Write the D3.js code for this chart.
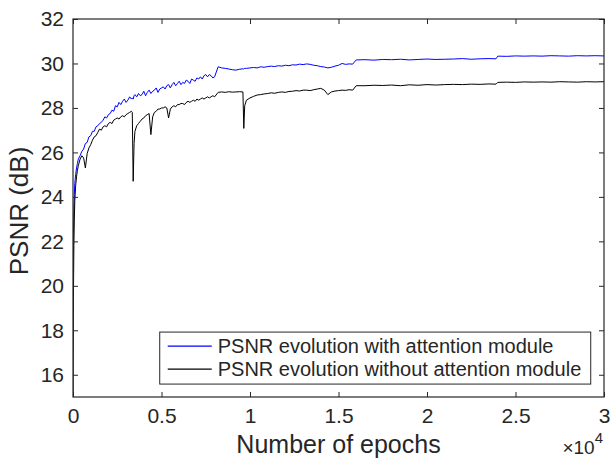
<!DOCTYPE html>
<html>
<head>
<meta charset="utf-8">
<script src="https://cdn.jsdelivr.net/npm/d3@7"></script>
<style>
  html, body { margin: 0; padding: 0; background: #fff; }
  svg { display: block; font-family: "Liberation Sans", Arial, sans-serif; }
</style>
</head>
<body>
<svg id="chart" width="611" height="458"></svg>
<script>
// training epochs (x values)
const epochs = [
  0, 25, 50, 75, 100, 150, 200, 250, 300,
  400, 500, 600, 700, 800, 900, 1000, 1100, 1200, 1300,
  1400, 1500, 1600, 1700, 1800, 1900, 2000, 2100, 2200, 2300,
  2400, 2500, 2600, 2700, 2800, 2900, 3000, 3100, 3200, 3300,
  3350, 3400, 3450, 3500, 3600, 3700, 3800, 3900, 4000, 4100,
  4200, 4300, 4400, 4500, 4600, 4700, 4800, 4900, 5000, 5100,
  5200, 5300, 5400, 5500, 5600, 5700, 5800, 5900, 6000, 6100,
  6200, 6300, 6400, 6500, 6600, 6700, 6800, 6900, 7000, 7100,
  7200, 7300, 7400, 7500, 7600, 7700, 7800, 7900, 8000,
  8200, 8400, 8600, 8800, 9000, 9200, 9400, 9600, 9650, 9700,
  9800, 10000, 10200, 10400, 10600, 10800, 11000, 11200, 11400, 11600,
  11800, 12000, 12200, 12400, 12600, 12800, 13000, 13200, 13400, 13600,
  13800, 14000, 14200, 14400, 14600, 14800, 15000, 15200, 15400, 15600,
  15800, 16000,
  16500, 17000, 17500, 18000, 18500, 19000, 19500, 20000, 20500, 21000,
  21500, 22000, 22500, 23000, 23500, 23900, 24000, 24500, 25000, 25500,
  26000, 26500, 27000, 27500, 28000, 28500, 29000, 29500, 30000
];

// PSNR (dB) with attention module
const psnrWith = [
  20.6, 22.3, 23.4, 24.1, 24.6, 25.0, 25.3, 25.5, 25.7,
  25.85, 26.05, 26.15, 26.40, 26.45, 26.70, 26.75, 26.95, 26.95, 27.15,
  27.20, 27.30, 27.35, 27.45, 27.60, 27.55, 27.70, 27.75, 27.90, 27.85,
  28.10, 28.05, 28.25, 28.15, 28.30, 28.40, 28.25, 28.35, 28.50, 28.40,
  28.45, 28.40, 28.55, 28.60, 28.50, 28.65, 28.55, 28.60, 28.75, 28.55,
  28.70, 28.80, 28.65, 28.75, 28.80, 28.90, 28.70, 28.85, 28.90, 28.95,
  28.85, 29.00, 29.05, 28.90, 29.05, 29.15, 29.00, 29.10, 29.20, 29.05,
  29.15, 29.10, 29.25, 29.20, 29.10, 29.30, 29.25, 29.20, 29.35, 29.30,
  29.40, 29.30, 29.45, 29.50, 29.40, 29.50, 29.45, 29.35, 29.40,
  29.85, 29.80, 29.78, 29.75, 29.72, 29.70, 29.74, 29.76, 29.75, 29.78,
  29.78, 29.80, 29.82, 29.80, 29.85, 29.83, 29.86, 29.88, 29.86, 29.90,
  29.88, 29.92, 29.90, 29.94, 29.93, 29.97, 29.95, 29.98, 29.96, 29.92,
  29.90, 29.86, 29.84, 29.80, 29.83, 29.88, 29.92, 30.00, 29.96, 29.98,
  29.97, 30.16,
  30.17, 30.15, 30.18, 30.17, 30.19, 30.16, 30.18, 30.20, 30.18, 30.19,
  30.20, 30.22, 30.19, 30.21, 30.22, 30.21, 30.33, 30.32, 30.34, 30.33,
  30.34, 30.33, 30.35, 30.34, 30.33, 30.35, 30.34, 30.35, 30.34
];

// PSNR (dB) without attention module
const psnrWithout = [
  14.0, 19.5, 21.8, 23.0, 23.8, 24.5, 24.9, 25.2, 25.4,
  25.70, 25.85, 25.75, 25.30, 25.95, 26.20, 26.35, 26.55, 26.70, 26.75,
  26.90, 27.05, 27.00, 27.15, 27.20, 27.15, 27.30, 27.35, 27.30, 27.45,
  27.50, 27.55, 27.50, 27.60, 27.65, 27.60, 27.70, 27.75, 27.80, 27.85,
  27.80, 24.70, 26.40, 26.95, 27.20, 27.30, 27.40, 27.50, 27.55, 27.65,
  27.70, 27.75, 26.80, 27.60, 27.80, 27.85, 27.95, 27.95, 28.00, 28.00,
  28.05, 28.00, 27.55, 27.95, 28.05, 28.10, 28.05, 28.15, 28.15, 28.20,
  28.20, 28.15, 28.25, 28.30, 28.25, 28.30, 28.35, 28.30, 28.40, 28.35,
  28.40, 28.45, 28.40, 28.45, 28.50, 28.45, 28.50, 28.55, 28.50,
  28.70, 28.72, 28.70, 28.73, 28.71, 28.72, 28.73, 28.72, 27.08, 28.10,
  28.35, 28.45, 28.52, 28.58, 28.60, 28.63, 28.65, 28.68, 28.66, 28.70,
  28.72, 28.70, 28.74, 28.75, 28.78, 28.76, 28.80, 28.80, 28.78, 28.82,
  28.85, 28.88, 28.80, 28.60, 28.72, 28.76, 28.78, 28.80, 28.79, 28.82,
  28.80, 29.00,
  29.00, 29.02, 29.01, 29.03, 29.00, 29.04, 29.02, 29.05, 29.03, 29.05,
  29.06, 29.05, 29.07, 29.06, 29.08, 29.07, 29.15, 29.16, 29.15, 29.17,
  29.16, 29.17, 29.16, 29.18, 29.17, 29.16, 29.18, 29.17, 29.18
];

const xTicks = [0, 5000, 10000, 15000, 20000, 25000, 30000];
const xTickLabels = ['0', '0.5', '1', '1.5', '2', '2.5', '3'];
const yTicks = [16, 18, 20, 22, 24, 26, 28, 30, 32];
const seriesNames = [
  'PSNR evolution with attention module',
  'PSNR evolution without attention module'
];
const seriesColors = ['#0000ff', '#000000'];

const margin = { top: 19, right: 7, bottom: 61, left: 73 };
const width = 611 - margin.left - margin.right;
const height = 458 - margin.top - margin.bottom;
const axisColor = '#262626';

const svg = d3.select('#chart');
const g = svg.append('g').attr('transform', `translate(${margin.left},${margin.top})`);

const xScale = d3.scaleLinear().domain([0, 30000]).range([0, width]);
const yScale = d3.scaleLinear().domain([15, 32]).range([height, 0]);

g.append('clipPath').attr('id', 'plot-clip')
  .append('rect').attr('width', width).attr('height', height);

const line = d3.line()
  .x((d, i) => xScale(epochs[i]))
  .y(d => yScale(d));

const plot = g.append('g').attr('clip-path', 'url(#plot-clip)');
[psnrWith, psnrWithout].forEach((vals, k) => {
  plot.append('path')
    .datum(vals)
    .attr('fill', 'none')
    .attr('stroke', seriesColors[k])
    .attr('stroke-width', 1)
    .attr('stroke-linejoin', 'round')
    .attr('d', line);
});

// axes: ticks point inward, box on all four sides
const tickLen = 5;
const xAxis = d3.axisBottom(xScale).tickValues(xTicks)
  .tickFormat((d, i) => xTickLabels[i]).tickSizeInner(-tickLen).tickSizeOuter(0).tickPadding(11);
const yAxis = d3.axisLeft(yScale).tickValues(yTicks)
  .tickSizeInner(-tickLen).tickSizeOuter(0).tickPadding(9);
const xTop = d3.axisTop(xScale).tickValues(xTicks).tickFormat('').tickSizeInner(-tickLen).tickSizeOuter(0);
const yRight = d3.axisRight(yScale).tickValues(yTicks).tickFormat('').tickSizeInner(-tickLen).tickSizeOuter(0);

const axes = [
  g.append('g').attr('transform', `translate(0,${height})`).call(xAxis),
  g.append('g').call(yAxis),
  g.append('g').call(xTop),
  g.append('g').attr('transform', `translate(${width},0)`).call(yRight)
];
axes.forEach(a => {
  a.select('.domain').remove();
  a.selectAll('.tick line').attr('stroke', axisColor).attr('stroke-width', 1);
  a.selectAll('.tick text').attr('fill', axisColor).attr('font-size', 21)
    .attr('font-family', '"Liberation Sans", Arial, sans-serif');
});

g.append('rect')
  .attr('width', width).attr('height', height)
  .attr('fill', 'none').attr('stroke', axisColor).attr('stroke-width', 1.2);

// axis labels
g.append('text')
  .attr('x', width / 2).attr('y', height + 56)
  .attr('text-anchor', 'middle').attr('font-size', 25).attr('fill', axisColor)
  .text('Number of epochs');

g.append('text')
  .attr('transform', `translate(-45,${height / 2 + 3}) rotate(-90)`)
  .attr('text-anchor', 'middle').attr('font-size', 26).attr('fill', axisColor)
  .text('PSNR (dB)');

const expo = g.append('text')
  .attr('x', width - 1).attr('y', height + 57)
  .attr('text-anchor', 'end').attr('font-size', 19).attr('fill', axisColor);
expo.append('tspan').text('\u00d710');
expo.append('tspan').attr('dy', -11).attr('font-size', 15).text('4');

// legend, placed by its data-space corner
const legend = g.append('g').attr('transform', `translate(${xScale(4900)},${yScale(17.92)})`);
legend.append('rect')
  .attr('width', 431).attr('height', 52)
  .attr('fill', '#fff').attr('stroke', axisColor).attr('stroke-width', 1);
seriesNames.forEach((name, i) => {
  const row = legend.append('g').attr('transform', `translate(0,${14 + i * 23})`);
  row.append('line')
    .attr('x1', 8).attr('x2', 52)
    .attr('stroke', seriesColors[i]).attr('stroke-width', 1.2);
  row.append('text')
    .attr('x', 58).attr('y', 7)
    .attr('font-size', 20).attr('fill', axisColor)
    .text(name);
});
</script>
</body>
</html>
